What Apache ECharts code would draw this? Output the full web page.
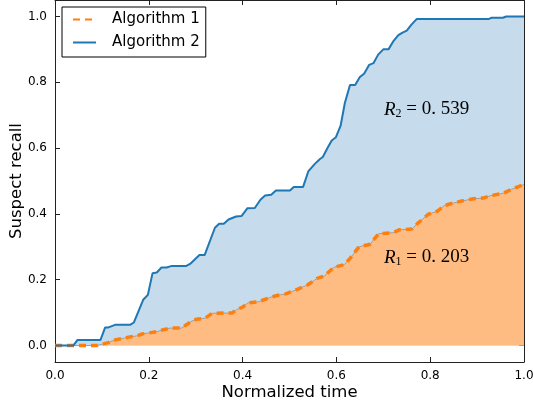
<!DOCTYPE html>
<html>
<head>
<meta charset="utf-8">
<script src="https://cdn.jsdelivr.net/npm/echarts@6/dist/echarts.min.js"></script>
<style>
  html, body { margin: 0; padding: 0; background: #fff; }
  #chart { width: 533px; height: 406px; }
</style>
</head>
<body>
<div id="chart"></div>
<script>
  // Algorithm 1 (orange, dashed)
  const alg1X = [0, 0.039, 0.089, 0.103, 0.114, 0.128, 0.146, 0.163, 0.174, 0.185, 0.199, 0.217, 0.231, 0.245, 0.270,
    0.277, 0.289, 0.302, 0.320, 0.335, 0.378, 0.387, 0.400, 0.412, 0.434, 0.458, 0.476, 0.492, 0.512, 0.538, 0.559,
    0.574, 0.595, 0.617, 0.630, 0.648, 0.672, 0.690, 0.721, 0.735, 0.761, 0.773, 0.796, 0.815, 0.830, 0.849, 0.867,
    0.892, 0.913, 0.928, 0.956, 0.974, 0.988, 1.0];
  const alg1Y = [0, 0, 0, 0.005, 0.009, 0.017, 0.022, 0.027, 0.029, 0.035, 0.038, 0.042, 0.048, 0.053, 0.053,
    0.060, 0.072, 0.080, 0.083, 0.098, 0.099, 0.109, 0.117, 0.130, 0.133, 0.146, 0.153, 0.157, 0.168, 0.184, 0.204,
    0.211, 0.238, 0.246, 0.266, 0.300, 0.308, 0.340, 0.343, 0.352, 0.354, 0.371, 0.399, 0.408, 0.425, 0.433, 0.439,
    0.446, 0.448, 0.455, 0.463, 0.475, 0.483, 0.489];

  // Algorithm 2 (blue, solid)
  const alg2X = [0, 0.039, 0.048, 0.097, 0.107, 0.114, 0.128, 0.160, 0.168, 0.188, 0.198, 0.208, 0.217, 0.227, 0.238,
    0.249, 0.280, 0.288, 0.308, 0.319, 0.341, 0.350, 0.360, 0.370, 0.386, 0.398, 0.410, 0.426, 0.438, 0.448, 0.461,
    0.471, 0.501, 0.509, 0.529, 0.540, 0.554, 0.565, 0.571, 0.581, 0.590, 0.599, 0.609, 0.618, 0.629, 0.640, 0.650,
    0.659, 0.670, 0.679, 0.689, 0.700, 0.711, 0.722, 0.732, 0.741, 0.750, 0.760, 0.771, 0.924, 0.931, 0.955, 0.962, 1.0];
  const alg2Y = [0, 0, 0.017, 0.017, 0.055, 0.055, 0.063, 0.063, 0.070, 0.139, 0.154, 0.220, 0.222, 0.237, 0.237,
    0.242, 0.242, 0.248, 0.275, 0.275, 0.358, 0.370, 0.370, 0.383, 0.392, 0.394, 0.417, 0.418, 0.443, 0.456, 0.458,
    0.471, 0.471, 0.482, 0.482, 0.529, 0.552, 0.567, 0.573, 0.600, 0.623, 0.633, 0.668, 0.737, 0.792, 0.792, 0.816,
    0.826, 0.853, 0.858, 0.884, 0.900, 0.900, 0.926, 0.943, 0.951, 0.957, 0.975, 0.992, 0.992, 0.996, 0.996, 1.0, 1.0];

  const tickValues = [0, 0.2, 0.4, 0.6, 0.8, 1.0];
  const r1Label = '0. 203';
  const r2Label = '0. 539';

  const pairs = (xs, ys) => xs.map((x, i) => [x, ys[i]]);
  const font = 'DejaVu Sans';

  const baseAxis = {
    type: 'value',
    axisLine: { show: true, onZero: false, lineStyle: { color: '#222', width: 1 } },
    axisTick: { show: true, inside: true, length: 5, customValues: tickValues, lineStyle: { color: '#222' } },
    splitLine: { show: false }
  };

  const rLabel = (sub, val) => ({
    text: '{r|R}{s|' + sub + '}{t| = ' + val + '}',
    rich: {
      r: { fontFamily: 'Liberation Serif', fontStyle: 'italic', fontSize: 19, fill: '#000' },
      s: { fontFamily: 'Liberation Serif', fontSize: 12, fill: '#000', padding: [8, 0, 0, 0] },
      t: { fontFamily: 'Liberation Serif', fontSize: 19, fill: '#000' }
    }
  });

  const chart = echarts.init(document.getElementById('chart'));
  const option = {
    animation: false,
    backgroundColor: '#fff',
    grid: { left: 55, right: 9, top: 0, bottom: 44, outerBoundsMode: 'none', containLabel: false },
    legend: {
      orient: 'vertical',
      left: 62, top: 7,
      padding: [5, 6, 7, 10],
      itemGap: 8, itemWidth: 23, itemHeight: 14,
      borderColor: '#000', borderWidth: 1,
      data: ['Algorithm 1', 'Algorithm 2'],
      itemStyle: { opacity: 0 },
      textStyle: { fontFamily: font, fontSize: 15, color: '#000', padding: [0, 0, 0, 11] }
    },
    xAxis: [
      Object.assign({}, baseAxis, {
        min: 0, max: 1, position: 'bottom',
        name: 'Normalized time', nameLocation: 'middle', nameGap: 22, nameMoveOverlap: false,
        nameTextStyle: { fontFamily: font, fontSize: 16.5, color: '#000' },
        axisLabel: { customValues: tickValues, fontFamily: font, fontSize: 12, color: '#000', margin: 8,
          formatter: v => v.toFixed(1) }
      }),
      Object.assign({}, baseAxis, { min: 0, max: 1, position: 'top', axisLabel: { show: false } })
    ],
    yAxis: [
      Object.assign({}, baseAxis, {
        min: -0.05, max: 1.05, position: 'left',
        name: 'Suspect recall', nameLocation: 'middle', nameGap: 30, nameMoveOverlap: false,
        nameTextStyle: { fontFamily: font, fontSize: 16.5, color: '#000' },
        axisLabel: { customValues: tickValues, fontFamily: font, fontSize: 12, color: '#000', margin: 8,
          formatter: v => v.toFixed(1) }
      }),
      Object.assign({}, baseAxis, { min: -0.05, max: 1.05, position: 'right', axisLabel: { show: false } })
    ],
    series: [
      {
        name: 'fill2', type: 'line', data: pairs(alg2X, alg2Y), symbol: 'none',
        lineStyle: { width: 0 }, areaStyle: { origin: 0, color: '#c6dbec', opacity: 1 }, z: 1
      },
      {
        name: 'fill1', type: 'line', data: pairs(alg1X, alg1Y), symbol: 'none',
        lineStyle: { width: 1, color: '#a0a0a0' }, areaStyle: { origin: 0, color: '#ffbc82', opacity: 1 }, z: 2
      },
      {
        name: 'Algorithm 1', type: 'line', data: pairs(alg1X, alg1Y), symbol: 'none',
        itemStyle: { color: '#ff7f0e' },
        lineStyle: { width: 3.5, color: '#ff7f0e', type: [7, 5] }, z: 3
      },
      {
        name: 'Algorithm 2', type: 'line', data: pairs(alg2X, alg2Y), symbol: 'none',
        itemStyle: { color: '#1f77b4' },
        lineStyle: { width: 2, color: '#1f77b4' }, z: 4
      }
    ],
    graphic: [
      { type: 'text', left: 384, top: 100, z: 10, style: rLabel('2', r2Label) },
      { type: 'text', left: 384, top: 248, z: 10, style: rLabel('1', r1Label) }
    ]
  };
  chart.setOption(option);
</script>
</body>
</html>
